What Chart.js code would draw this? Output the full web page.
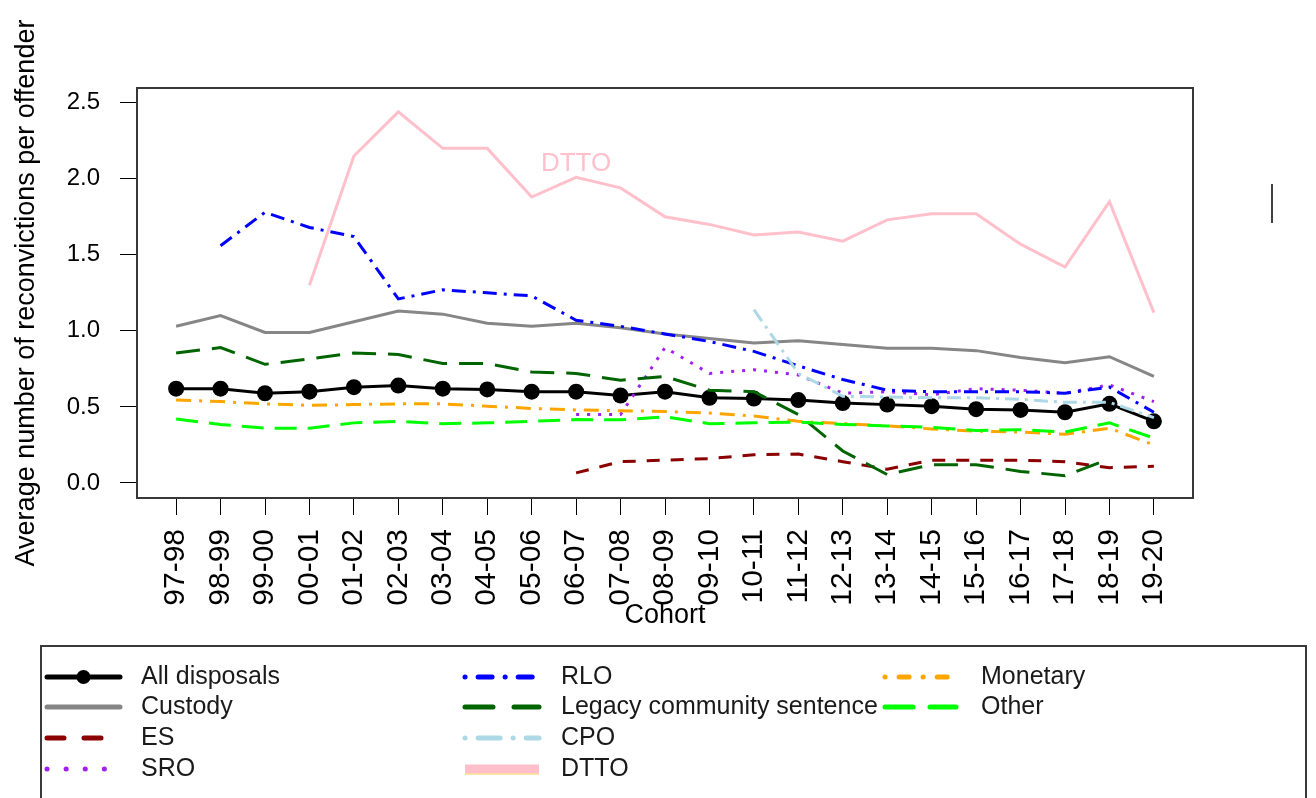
<!DOCTYPE html>
<html>
<head>
<meta charset="utf-8">
<title>Average number of reconvictions per offender by cohort</title>
<script src="https://cdn.jsdelivr.net/npm/chart.js@4.4.1/dist/chart.umd.min.js"></script>
<style>
  html, body { margin: 0; padding: 0; background: #ffffff; }
  #wrap { width: 1316px; height: 798px; overflow: hidden; }
</style>
</head>
<body>
<div id="wrap"><canvas id="reconChart" width="1316" height="798"></canvas></div>
<script>
// Cohort labels (x axis)
const cohortLabels = ['97-98', '98-99', '99-00', '00-01', '01-02', '02-03', '03-04', '04-05',
    '05-06', '06-07', '07-08', '08-09', '09-10', '10-11', '11-12', '12-13', '13-14', '14-15',
    '15-16', '16-17', '17-18', '18-19', '19-20'];

// Y axis tick values
const yTickValues = [0, 0.5, 1.0, 1.5, 2.0, 2.5];

// Series values (null = no data for that cohort)
const allDisposals = [0.62, 0.62, 0.59, 0.60, 0.63, 0.64, 0.62, 0.615, 0.60, 0.60, 0.575, 0.60,
    0.56, 0.555, 0.545, 0.525, 0.515, 0.505, 0.485, 0.48, 0.465, 0.52, 0.405];
const custody = [1.03, 1.10, 0.99, 0.99, 1.06, 1.13, 1.11, 1.05, 1.03, 1.05, 1.02, 0.98,
    0.95, 0.92, 0.935, 0.91, 0.885, 0.885, 0.87, 0.825, 0.79, 0.83, 0.70];
const es = [null, null, null, null, null, null, null, null, null, 0.066, 0.14, 0.15,
    0.16, 0.185, 0.19, 0.14, 0.09, 0.15, 0.15, 0.15, 0.14, 0.10, 0.11];
const sro = [null, null, null, null, null, null, null, null, null, 0.45, 0.45, 0.89,
    0.72, 0.745, 0.71, 0.59, 0.60, 0.58, 0.62, 0.61, 0.59, 0.645, 0.535];
const rlo = [null, 1.56, 1.78, 1.68, 1.62, 1.21, 1.27, 1.25, 1.23, 1.07, 1.03, 0.98,
    0.93, 0.865, 0.77, 0.68, 0.61, 0.60, 0.60, 0.60, 0.59, 0.63, 0.465];
const legacyCommunity = [0.855, 0.89, 0.78, 0.815, 0.855, 0.845, 0.785, 0.785, 0.73, 0.72, 0.675, 0.70,
    0.61, 0.60, 0.45, 0.21, 0.055, 0.12, 0.12, 0.076, 0.048, 0.158, null];
const cpo = [null, null, null, null, null, null, null, null, null, null, null, null,
    null, 1.14, 0.72, 0.57, 0.565, 0.56, 0.56, 0.55, 0.53, 0.53, 0.43];
const dtto = [null, null, null, 1.30, 2.15, 2.44, 2.20, 2.20, 1.88, 2.01, 1.94, 1.75,
    1.70, 1.63, 1.65, 1.59, 1.73, 1.77, 1.77, 1.57, 1.42, 1.85, 1.12];
const monetary = [0.545, 0.535, 0.52, 0.51, 0.515, 0.52, 0.52, 0.505, 0.49, 0.48, 0.475, 0.47,
    0.46, 0.44, 0.405, 0.39, 0.375, 0.355, 0.34, 0.335, 0.32, 0.36, 0.25];
const other = [0.42, 0.385, 0.36, 0.36, 0.395, 0.405, 0.39, 0.395, 0.405, 0.417, 0.415, 0.435,
    0.39, 0.395, 0.40, 0.385, 0.375, 0.365, 0.345, 0.35, 0.335, 0.395, 0.295];

// Where the "DTTO" annotation sits, in data units
const dttoNoteX = 9;
const dttoNoteY = 2.10;

const FONT = "'Liberation Sans', Arial, Helvetica, sans-serif";

// Line styles (R-like colours and line types)
const series = [
    { label: 'All disposals', values: allDisposals, color: '#000000', dash: [], legendDash: [], points: true },
    { label: 'Custody', values: custody, color: '#868686', dash: [], legendDash: [] },
    { label: 'ES', values: es, color: '#8b0000', dash: [13, 11], legendDash: [17, 20] },
    { label: 'SRO', values: sro, color: '#a020f0', dash: [3, 8], legendDash: [0.1, 19] },
    { label: 'RLO', values: rlo, color: '#0000ff', dash: [14, 7, 3, 7], legendDash: [0.1, 13, 14, 13] },
    { label: 'Legacy community sentence', values: legacyCommunity, color: '#006400', dash: [24, 12], legendDash: [28, 21] },
    { label: 'CPO', values: cpo, color: '#add8e6', dash: [14, 6, 3, 6], legendDash: [0.1, 13, 22, 13] },
    { label: 'DTTO', values: dtto, color: '#ffc0cb', dash: [], legendDash: [] },
    { label: 'Monetary', values: monetary, color: '#ffa500', dash: [15, 8, 3, 8], legendDash: [0.1, 14, 10, 14] },
    { label: 'Other', values: other, color: '#00ff00', dash: [22, 11], legendDash: [28, 17] }
];

const datasets = series.map((s, i) => ({
    label: s.label,
    data: s.values.map((v, j) => ({ x: j, y: v })),
    borderColor: s.color,
    backgroundColor: s.color,
    borderWidth: 3,
    borderDash: s.dash,
    pointRadius: s.points ? 8 : 0,
    pointHoverRadius: s.points ? 8 : 0,
    pointBackgroundColor: s.color,
    pointBorderWidth: 0,
    tension: 0,
    fill: false,
    spanGaps: false,
    order: series.length - i
}));

/**
 * Frame, DTTO annotation and the legend box below the plot
 */
const decorPlugin = {
    id: 'decor',
    afterDraw(chart) {
        const ctx = chart.ctx;
        const area = chart.chartArea;
        const xs = chart.scales.x;
        const ys = chart.scales.y;

        ctx.save();

        // plot box
        ctx.strokeStyle = '#383838';
        ctx.lineWidth = 2;
        ctx.setLineDash([]);
        ctx.strokeRect(area.left, area.top, area.right - area.left, area.bottom - area.top);

        // DTTO label next to its line
        ctx.fillStyle = '#ffc0cb';
        ctx.font = '26px ' + FONT;
        ctx.textAlign = 'center';
        ctx.textBaseline = 'middle';
        ctx.fillText('DTTO', xs.getPixelForValue(dttoNoteX), ys.getPixelForValue(dttoNoteY));

        // stray mark to the right of the plot
        ctx.strokeStyle = '#000000';
        ctx.lineWidth = 1.5;
        ctx.beginPath();
        ctx.moveTo(1272, 184);
        ctx.lineTo(1272, 223);
        ctx.stroke();

        // legend box (bottom edge falls outside the picture)
        ctx.strokeStyle = '#3a3a3a';
        ctx.lineWidth = 2;
        ctx.strokeRect(41, 646, 1265, 180);

        const columns = [
            { x0: 45, x1: 122, tx: 141 },
            { x0: 463, x1: 541, tx: 561 },
            { x0: 883, x1: 958, tx: 981 }
        ];
        const rowY = [677, 707, 738, 769];

        series.forEach((s, i) => {
            const col = columns[Math.floor(i / 4)];
            const y = rowY[i % 4];

            ctx.setLineDash(s.legendDash);
            ctx.strokeStyle = s.color;
            ctx.lineCap = 'round';
            ctx.lineWidth = 5;
            if (s.label === 'DTTO') {
                ctx.lineCap = 'butt';
                ctx.lineWidth = 9;
            }
            ctx.beginPath();
            ctx.moveTo(col.x0 + 2, y);
            ctx.lineTo(col.x1 - 2, y);
            ctx.stroke();

            if (s.label === 'DTTO') {
                ctx.strokeStyle = '#ffd98a';
                ctx.lineWidth = 1.5;
                ctx.beginPath();
                ctx.moveTo(col.x0 + 2, y + 5);
                ctx.lineTo(col.x1 - 2, y + 5);
                ctx.stroke();
            }

            if (s.points) {
                ctx.fillStyle = s.color;
                ctx.beginPath();
                ctx.arc((col.x0 + col.x1) / 2, y, 7, 0, Math.PI * 2);
                ctx.fill();
            }

            ctx.setLineDash([]);
            ctx.fillStyle = '#1a1a1a';
            ctx.font = '25px ' + FONT;
            ctx.textAlign = 'left';
            ctx.textBaseline = 'middle';
            ctx.fillText(s.label, col.tx, y);
        });

        ctx.restore();
    }
};

const ctx = document.getElementById('reconChart').getContext('2d');

const reconChart = new Chart(ctx, {
    type: 'line',
    data: { datasets: datasets },
    plugins: [decorPlugin],
    options: {
        responsive: false,
        animation: false,
        events: [],
        layout: {
            padding: { left: 0, top: 88, right: 123, bottom: 150 }
        },
        plugins: {
            legend: { display: false },
            tooltip: { enabled: false }
        },
        scales: {
            x: {
                type: 'linear',
                min: -0.88,
                max: 22.88,
                afterBuildTicks: (scale) => {
                    scale.ticks = cohortLabels.map((_, i) => ({ value: i }));
                },
                afterFit: (scale) => {
                    scale.height = 150;
                },
                grid: {
                    drawOnChartArea: false,
                    drawTicks: true,
                    tickLength: 17,
                    color: '#000000',
                    lineWidth: 1
                },
                border: { display: false },
                ticks: {
                    autoSkip: false,
                    maxRotation: 90,
                    minRotation: 90,
                    padding: 14,
                    color: '#000000',
                    font: { family: FONT, size: 30 },
                    callback: (value) => cohortLabels[value]
                },
                title: {
                    display: true,
                    text: 'Cohort',
                    color: '#000000',
                    font: { family: FONT, size: 27 },
                    padding: { top: 0, bottom: 16 }
                }
            },
            y: {
                type: 'linear',
                min: -0.099,
                max: 2.597,
                afterBuildTicks: (scale) => {
                    scale.ticks = yTickValues.map(v => ({ value: v }));
                },
                afterFit: (scale) => {
                    scale.width = 137;
                },
                grid: {
                    drawOnChartArea: false,
                    drawTicks: true,
                    tickLength: 17,
                    color: '#000000',
                    lineWidth: 1
                },
                border: { display: false },
                ticks: {
                    padding: 20,
                    color: '#000000',
                    font: { family: FONT, size: 24 },
                    callback: (value) => Number(value).toFixed(1)
                },
                title: {
                    display: true,
                    text: 'Average number of reconvictions per offender',
                    color: '#000000',
                    font: { family: FONT, size: 27 },
                    padding: { top: 10, bottom: 0 }
                }
            }
        }
    }
});
</script>
</body>
</html>
